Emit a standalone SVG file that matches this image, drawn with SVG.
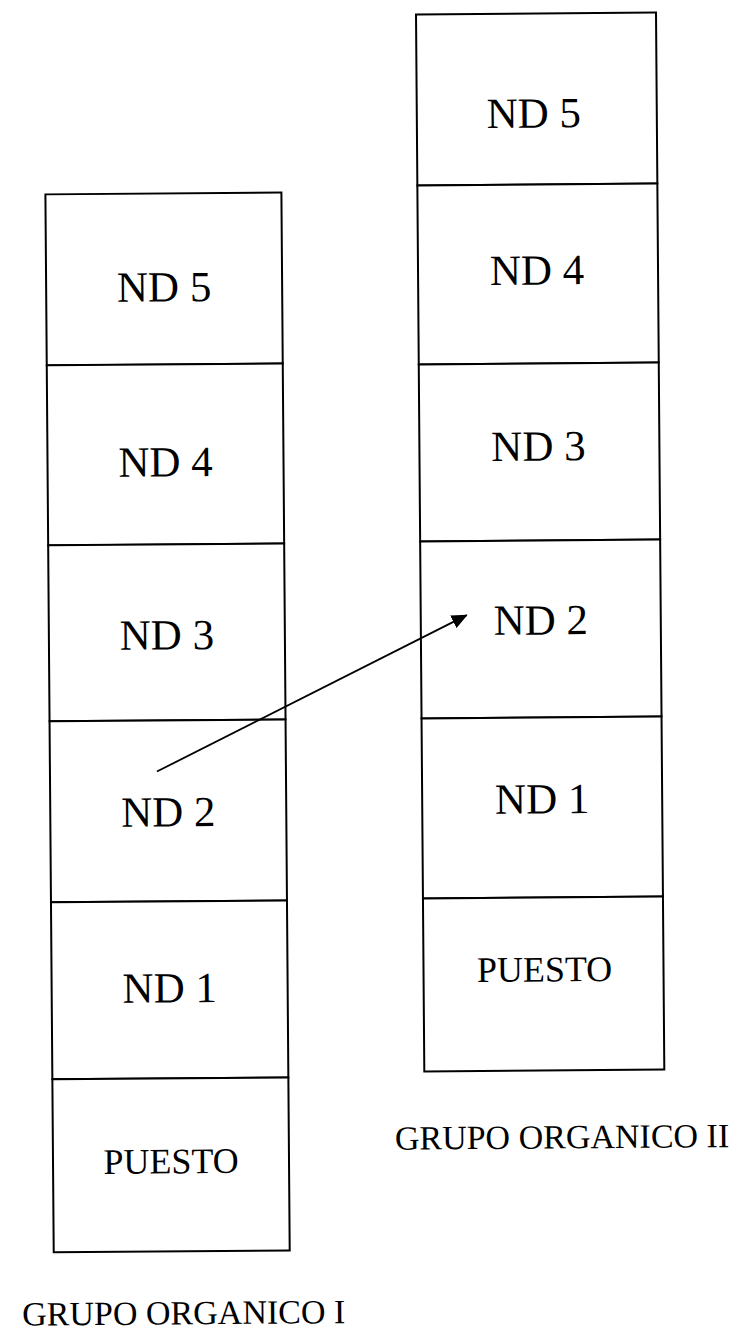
<svg xmlns="http://www.w3.org/2000/svg" width="742" height="1335" viewBox="0 0 742 1335">
  <style>
    .cell { fill: #ffffff; stroke: #000000; stroke-width: 2; }
    .nd { font-family: "Liberation Serif", "Times New Roman", serif; font-size: 43px; fill: #000000; text-anchor: middle; }
    .post { font-family: "Liberation Serif", "Times New Roman", serif; font-size: 36px; fill: #000000; text-anchor: middle; }
    .label { font-family: "Liberation Serif", "Times New Roman", serif; font-size: 34px; fill: #000000; }
    .link { stroke: #000000; stroke-width: 1.8; fill: none; }
  </style>
  <defs>
    <marker id="arrowhead" markerWidth="16" markerHeight="14" refX="15" refY="7" orient="auto" markerUnits="userSpaceOnUse">
      <path d="M0,0 L16,7 L0,14 Z" fill="#000000"/>
    </marker>
  </defs>
  <rect x="0" y="0" width="742" height="1335" fill="#ffffff"/>
  <g transform="rotate(-0.45 350 650)">
    <!-- Column I -->
    <g id="g1-nd5"><rect class="cell" x="49" y="192" width="236" height="171"/><text class="nd" x="167" y="300">ND 5</text></g>
    <g id="g1-nd4"><rect class="cell" x="49" y="363" width="236" height="180"/><text class="nd" x="167" y="475">ND 4</text></g>
    <g id="g1-nd3"><rect class="cell" x="49" y="543" width="236" height="176"/><text class="nd" x="167" y="648">ND 3</text></g>
    <g id="g1-nd2"><rect class="cell" x="49" y="719" width="236" height="181"/><text class="nd" x="167" y="825">ND 2</text></g>
    <g id="g1-nd1"><rect class="cell" x="49" y="900" width="236" height="177"/><text class="nd" x="167" y="1001">ND 1</text></g>
    <g id="g1-puesto"><rect class="cell" x="49" y="1077" width="236" height="173"/><text class="post" x="167" y="1172">PUESTO</text></g>
    <g id="g1-label"><text class="label" x="17" y="1323">GRUPO ORGANICO I</text></g>

    <!-- Column II -->
    <g id="g2-nd5"><rect class="cell" x="421" y="15" width="240" height="171"/><text class="nd" x="538" y="129">ND 5</text></g>
    <g id="g2-nd4"><rect class="cell" x="421" y="186" width="240" height="179"/><text class="nd" x="540" y="286">ND 4</text></g>
    <g id="g2-nd3"><rect class="cell" x="421" y="365" width="240" height="177"/><text class="nd" x="540" y="462">ND 3</text></g>
    <g id="g2-nd2"><rect class="cell" x="421" y="542" width="240" height="177"/><text class="nd" x="541" y="636">ND 2</text></g>
    <g id="g2-nd1"><rect class="cell" x="421" y="719" width="240" height="180"/><text class="nd" x="541" y="815">ND 1</text></g>
    <g id="g2-puesto"><rect class="cell" x="421" y="899" width="240" height="173"/><text class="post" x="542" y="983">PUESTO</text></g>
    <g id="g2-label"><text class="label" x="391" y="1150">GRUPO ORGANICO II</text></g>

    <!-- Connectors -->
    <g id="connectors">
      <line class="link" x1="156" y1="770" x2="467" y2="616" marker-end="url(#arrowhead)"/>
    </g>
  </g>
</svg>
